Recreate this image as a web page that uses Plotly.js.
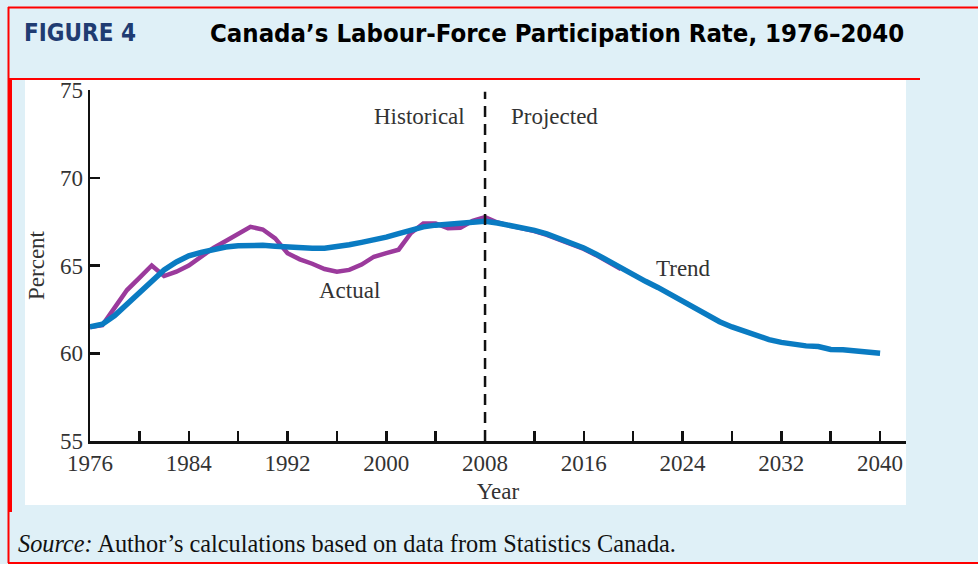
<!DOCTYPE html>
<html>
<head>
<meta charset="utf-8">
<script src="https://cdn.plot.ly/plotly-3.0.1.min.js"></script>
<style>
  html, body { margin: 0; padding: 0; background: #dff0f7; }
  #chart { width: 978px; height: 564px; }
</style>
</head>
<body>
<div id="chart"></div>
<script>
// Canada's labour-force participation rate (%), 1976–2040
const actualYears = [1976,1977,1978,1979,1980,1981,1982,1983,1984,1985,1986,1987,1988,1989,1990,
  1991,1992,1993,1994,1995,1996,1997,1998,1999,2000,2001,2002,2003,2004,2005,2006,2007,2008,
  2009,2010,2011,2012,2013,2014,2015,2016,2017,2018,2019];
const actualRate = [61.5,61.6,62.6,63.6,64.3,65.0,64.4,64.65,65.0,65.5,66.0,66.4,66.8,67.2,67.05,
  66.55,65.7,65.35,65.1,64.8,64.65,64.75,65.05,65.5,65.7,65.9,66.85,67.4,67.4,67.12,67.15,67.55,67.75,
  67.45,67.27,67.14,66.96,66.75,66.5,66.24,65.94,65.59,65.19,64.8];

const trendYears = [1976,1977,1978,1979,1980,1981,1982,1983,1984,1985,1986,1987,1988,1989,1990,
  1991,1992,1993,1994,1995,1996,1997,1998,1999,2000,2001,2002,2003,2004,2005,2006,2007,2008,
  2009,2010,2011,2012,2013,2014,2015,2016,2017,2018,2019,2020,2021,2022,2023,2024,2025,2026,
  2027,2028,2029,2030,2031,2032,2033,2034,2035,2036,2037,2038,2039,2040];
const trendRate = [61.5,61.65,62.15,62.8,63.45,64.1,64.75,65.2,65.55,65.75,65.92,66.05,66.12,66.17,66.15,
  66.1,66.05,66.0,65.98,65.98,66.05,66.18,66.32,66.45,66.62,66.82,67.05,67.2,67.3,67.37,67.44,67.52,67.52,
  67.42,67.3,67.18,67.0,66.8,66.55,66.3,66.0,65.65,65.25,64.85,64.5,64.1,63.75,63.35,62.95,62.55,62.15,
  61.8,61.5,61.25,61.0,60.78,60.62,60.5,60.42,60.38,60.22,60.2,60.15,60.07,60.0];

const tickYears = [1976,1980,1984,1988,1992,1996,2000,2004,2008,2012,2016,2020,2024,2028,2032,2036,2040];
const tickLabels = tickYears.map(y => (y - 1976) % 8 === 0 ? String(y) : '');
const splitYear = 2008;

const W = 978, H = 564;
const M = { l: 90, r: 72, t: 90, b: 123 };
const PW = W - M.l - M.r, PH = H - M.t - M.b;
// pixel -> paper coordinates for the frame decoration
const px = x => (x - M.l) / PW;
const py = y => (H - M.b - y) / PH;

const RED = '#ff0000';
const SERIF = 'Liberation Serif, Times New Roman, serif';
const HEAD = 'DejaVu Sans Condensed, Liberation Sans, Arial, sans-serif';

const frameShapes = [
  // white chart panel
  { type: 'rect', xref: 'paper', yref: 'paper', x0: px(25), x1: px(906), y0: py(505), y1: py(80),
    fillcolor: '#ffffff', line: { width: 0 }, layer: 'below' },
  // red frame lines
  { type: 'line', xref: 'paper', yref: 'paper', x0: px(8), x1: px(980), y0: py(7.5), y1: py(7.5),
    line: { color: RED, width: 2 } },
  { type: 'line', xref: 'paper', yref: 'paper', x0: px(8), x1: px(920), y0: py(79), y1: py(79),
    line: { color: RED, width: 2 } },
  { type: 'line', xref: 'paper', yref: 'paper', x0: px(8.5), x1: px(8.5), y0: py(7), y1: py(563),
    line: { color: RED, width: 2 } },
  { type: 'line', xref: 'paper', yref: 'paper', x0: px(10), x1: px(10), y0: py(79), y1: py(512),
    line: { color: RED, width: 4 } },
  { type: 'line', xref: 'paper', yref: 'paper', x0: px(8), x1: px(980), y0: py(563), y1: py(563),
    line: { color: RED, width: 2 } },
  // historical / projected divider
  { type: 'line', xref: 'x', yref: 'y', x0: splitYear, x1: splitYear, y0: 55, y1: 74.9,
    line: { color: '#111111', width: 2.5, dash: '11px,7px' } }
];

const traces = [
  { x: actualYears, y: actualRate, type: 'scatter', mode: 'lines', name: 'Actual',
    line: { color: '#9b3a9c', width: 4.5 }, hoverinfo: 'x+y' },
  { x: trendYears, y: trendRate, type: 'scatter', mode: 'lines', name: 'Trend',
    line: { color: '#0a7bc2', width: 5.5 }, hoverinfo: 'x+y' }
];

const labelFont = { family: SERIF, size: 23, color: '#333333' };

const layout = {
  width: W, height: H,
  margin: M,
  paper_bgcolor: '#dff0f7',
  plot_bgcolor: 'rgba(0,0,0,0)',
  showlegend: false,
  font: labelFont,
  xaxis: {
    range: [1976, 2042.1],
    tickmode: 'array', tickvals: tickYears, ticktext: tickLabels,
    ticks: 'inside', ticklen: 10, tickwidth: 2.5, tickcolor: '#111111',
    showline: true, linecolor: '#111111', linewidth: 2.5,
    showgrid: false, zeroline: false,
    tickfont: labelFont,
    title: { text: 'Year', font: labelFont, standoff: 8 }
  },
  yaxis: {
    range: [55, 75],
    tickmode: 'array', tickvals: [55, 60, 65, 70, 75],
    ticks: 'inside', ticklen: 10, tickwidth: 2.5, tickcolor: '#111111',
    showline: true, linecolor: '#111111', linewidth: 2.5,
    showgrid: false, zeroline: false,
    tickfont: labelFont,
    title: { text: 'Percent', font: labelFont, standoff: 9 }
  },
  shapes: frameShapes,
  annotations: [
    { xref: 'paper', yref: 'paper', x: px(22), y: py(33), xanchor: 'left', yanchor: 'middle',
      text: '<b>FIGURE 4</b>', showarrow: false,
      font: { family: HEAD, size: 24, color: '#1f3c72' } },
    { xref: 'paper', yref: 'paper', x: px(906), y: py(33), xanchor: 'right', yanchor: 'middle',
      text: '<b>Canada’s Labour-Force Participation Rate, 1976–2040</b>', showarrow: false,
      font: { family: HEAD, size: 25.5, color: '#000000' } },
    { xref: 'paper', yref: 'paper', x: px(16), y: py(543), xanchor: 'left', yanchor: 'middle',
      text: '<i>Source:</i> Author’s calculations based on data from Statistics Canada.', showarrow: false,
      font: { family: SERIF, size: 24.3, color: '#111111' } },
    { xref: 'x', yref: 'paper', x: splitYear, y: py(116), xanchor: 'right', yanchor: 'middle', xshift: -18,
      text: 'Historical', showarrow: false, font: labelFont },
    { xref: 'x', yref: 'paper', x: splitYear, y: py(116), xanchor: 'left', yanchor: 'middle', xshift: 24,
      text: 'Projected', showarrow: false, font: labelFont },
    { xref: 'x', yref: 'y', x: 1997, y: 63.6, text: 'Actual', showarrow: false, font: labelFont },
    { xref: 'x', yref: 'y', x: 2024.05, y: 64.85, text: 'Trend', showarrow: false, font: labelFont }
  ]
};

Plotly.newPlot('chart', traces, layout, { displayModeBar: false, staticPlot: true });
</script>
</body>
</html>
